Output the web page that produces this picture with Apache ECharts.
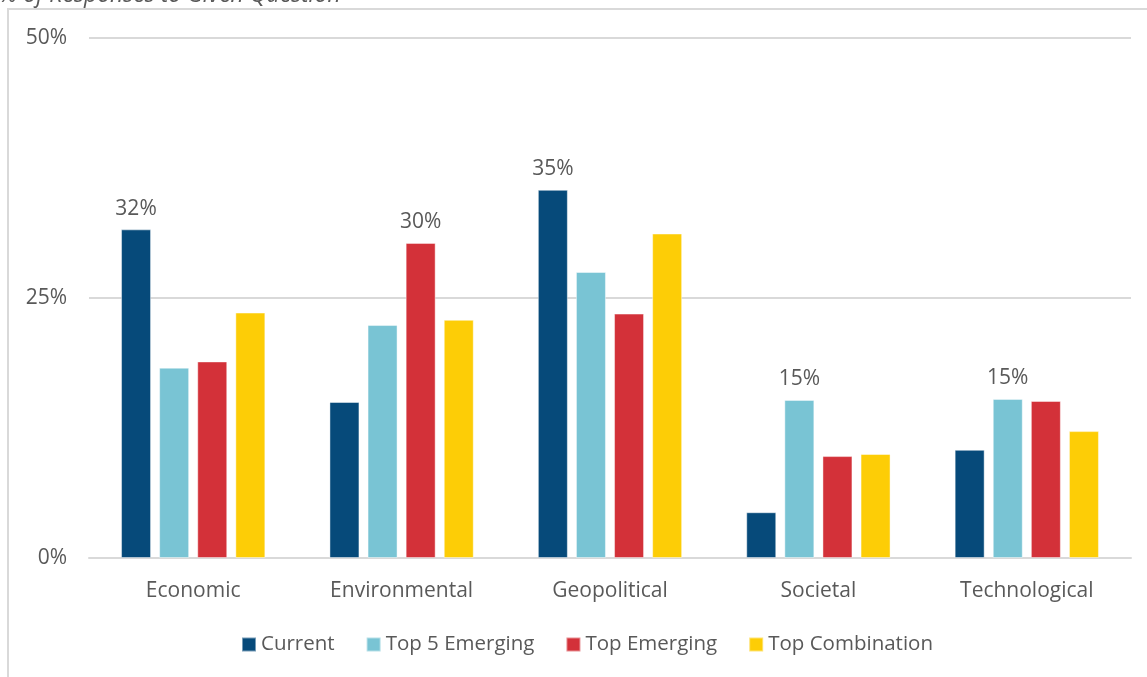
<!DOCTYPE html>
<html style="height: 100%">
<head>
	<meta charset="utf-8">
</head>
<body style="height: 100%; margin: 0; background: #fff">
<div id="container" style="width: 1147px; height: 677px"></div>
<script type="text/javascript" src="https://cdn.jsdelivr.net/npm/echarts@6/dist/echarts.min.js"></script>
<script type="text/javascript">
    var categories = ['Economic', 'Environmental', 'Geopolitical', 'Societal', 'Technological'];
    var seriesNames = ['Current', 'Top 5 Emerging', 'Top Emerging', 'Top Combination'];
    var current = [31.6, 15.0, 35.4, 4.4, 10.4];
    var top5Emerging = [18.3, 22.4, 27.5, 15.2, 15.3];
    var topEmerging = [18.9, 30.3, 23.5, 9.8, 15.1];
    var topCombination = [23.6, 22.9, 31.2, 10.0, 12.2];
    var yTicks = [0, 25, 50];

    var colors = ['#064A7A', '#79C4D4', '#D33139', '#FDCD06'];
    var allSeries = [current, top5Emerging, topEmerging, topCombination];

    // highest value in each category gets the label
    var maxPerCat = categories.map(function (c, i) {
        return Math.max.apply(null, allSeries.map(function (s) { return s[i]; }));
    });

    var textColor = '#595959';
    var fontFamily = '"Open Sans", sans-serif';

    var dom = document.getElementById("container");
    var myChart = echarts.init(dom);

    var option = {
        backgroundColor: '#fff',
        animation: false,
        title: {
            text: '% of Responses to Given Question',
            left: -6,
            top: -21,
            textStyle: {
                fontSize: 23,
                fontStyle: 'italic',
                fontWeight: 'normal',
                color: textColor,
                fontFamily: fontFamily
            }
        },
        graphic: [{
            type: 'rect',
            shape: { x: 8, y: 9, width: 1200, height: 700 },
            style: { fill: 'none', stroke: '#d9d9d9', lineWidth: 2 },
            silent: true,
            z: -1
        }],
        legend: {
            data: seriesNames,
            left: 236,
            top: 629,
            icon: 'rect',
            itemWidth: 14,
            itemHeight: 14,
            itemGap: 31,
            textStyle: { fontSize: 20.5, color: textColor, fontFamily: fontFamily }
        },
        grid: { left: 89, right: 16, top: 38, bottom: 119 },
        xAxis: {
            type: 'category',
            data: categories,
            axisTick: { show: false },
            axisLine: { lineStyle: { color: '#d9d9d9', width: 2 } },
            axisLabel: { margin: 23, fontSize: 21, color: textColor, fontFamily: fontFamily }
        },
        yAxis: {
            type: 'value',
            min: yTicks[0],
            max: yTicks[yTicks.length - 1],
            interval: yTicks[1] - yTicks[0],
            axisLine: { show: false },
            axisTick: { show: false },
            splitLine: { lineStyle: { color: '#d9d9d9', width: 2 } },
            axisLabel: {
                margin: 22,
                fontSize: 21,
                color: textColor,
                fontFamily: fontFamily,
                formatter: '{value}%'
            }
        },
        series: seriesNames.map(function (name, k) {
            return {
                name: name,
                type: 'bar',
                data: allSeries[k],
                barWidth: 30,
                barGap: '27%',
                itemStyle: {
                    color: colors[k],
                    borderColor: 'rgba(255,255,255,0.45)',
                    borderWidth: 1
                },
                label: {
                    show: true,
                    position: 'top',
                    distance: 10,
                    fontSize: 21,
                    color: textColor,
                    fontFamily: fontFamily,
                    formatter: function (p) {
                        if (p.value !== maxPerCat[p.dataIndex]) return '';
                        return Math.round(p.value) + '%';
                    }
                }
            };
        })
    };

    myChart.setOption(option);
</script>
</body>
</html>
